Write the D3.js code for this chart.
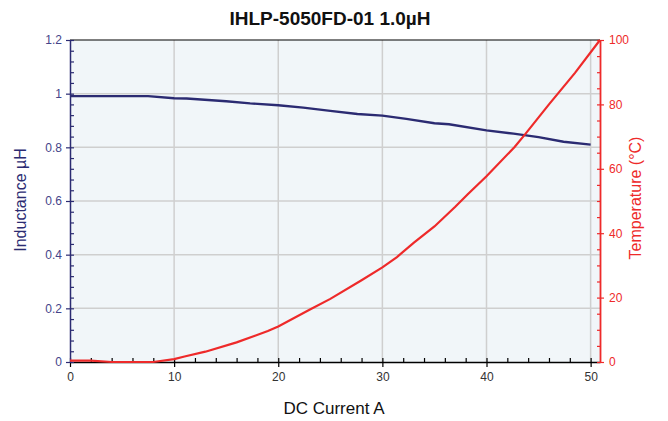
<!DOCTYPE html>
<html><head><meta charset="utf-8">
<script src="https://cdn.jsdelivr.net/npm/d3@7"></script>
<style>body{margin:0;background:#fff;}svg{display:block;font-family:"Liberation Sans",Arial,Helvetica,sans-serif;}</style>
</head><body>
<svg id="c" width="668" height="421"></svg>
<script>
const title = "IHLP-5050FD-01 1.0µH";
const xLabel = "DC Current A";
const yLeftLabel = "Inductance µH";
const yRightLabel = "Temperature (°C)";

const currentL = [0, 2, 4, 6, 7.5, 10, 11.2, 15, 17.3, 20, 22.4, 25, 27.6, 30, 32.3, 35, 36.4, 40, 42.6, 45, 47.4, 50];
const inductance = [0.991, 0.991, 0.991, 0.991, 0.991, 0.983, 0.982, 0.972, 0.964, 0.957, 0.948, 0.936, 0.924, 0.918, 0.906, 0.890, 0.886, 0.863, 0.851, 0.838, 0.821, 0.810];

const currentT = [0, 2, 4, 6, 8, 10, 11, 13, 16, 19, 20, 23, 25, 28, 30, 31.4, 33, 35, 37, 38.2, 40, 42.7, 43.7, 46, 48.5, 50.9];
const temperature = [0.4, 0.4, 0, 0, 0, 0.9, 1.7, 3.2, 6.1, 9.6, 11, 16.2, 19.6, 25.4, 29.4, 32.6, 37, 42.1, 48.2, 52.1, 57.7, 66.8, 70.7, 80, 89.8, 100];

const xTicks = [0, 10, 20, 30, 40, 50];
const yLeftTicks = [0, 0.2, 0.4, 0.6, 0.8, 1, 1.2];
const yRightTicks = [0, 20, 40, 60, 80, 100];

const navy = "#2b2b72", navyText = "#44448a", red = "#ee2a2a";
const svg = d3.select("#c");
const L = 70, R = 600, T = 40, B = 362;

const x = d3.scaleLinear().domain([0, 50.9]).range([L, R]);
const yL = d3.scaleLinear().domain([0, 1.2]).range([B, T]);
const yR = d3.scaleLinear().domain([0, 100]).range([B, T]);

svg.append("rect").attr("x", L).attr("y", T).attr("width", R - L).attr("height", B - T).attr("fill", "#f1f6f9");

// gridlines
svg.append("g").selectAll("line").data(xTicks.filter(d => d > 0)).join("line")
  .attr("x1", d => x(d)).attr("x2", d => x(d)).attr("y1", T).attr("y2", B)
  .attr("stroke", "#cfcfcf").attr("stroke-width", 1.5);
svg.append("g").selectAll("line").data(yLeftTicks.filter(d => d > 0 && d < 1.2)).join("line")
  .attr("x1", L).attr("x2", R).attr("y1", d => yL(d)).attr("y2", d => yL(d))
  .attr("stroke", "#cfcfcf").attr("stroke-width", 1.5);

// top border
svg.append("line").attr("x1", L).attr("x2", R).attr("y1", T).attr("y2", T).attr("stroke", "#000").attr("stroke-width", 1.2);

// bottom axis
const gx = svg.append("g").attr("transform", `translate(0,${B})`);
gx.call(d3.axisBottom(x).tickValues(d3.range(0, 51, 2)).tickSize(-4).tickFormat(""))
  .call(g => g.select(".domain").remove());
gx.append("g").call(d3.axisBottom(x).tickValues(xTicks).tickSize(5).tickSizeOuter(0).tickPadding(5).tickFormat(d3.format("d")))
  .call(g => g.select(".domain").attr("stroke", "#000").attr("stroke-width", 1.5))
  .call(g => g.selectAll("text").attr("fill", "#333").attr("font-size", 12).attr("font-family", "Liberation Sans, Arial, sans-serif"));
gx.selectAll("line").attr("stroke", "#000").attr("stroke-width", 1.2);

// left axis
const gl = svg.append("g").attr("transform", `translate(${L},0)`);
gl.call(d3.axisLeft(yL).tickValues(d3.range(0, 1.2001, 0.04)).tickSize(-4).tickFormat(""))
  .call(g => g.select(".domain").remove());
gl.append("g").call(d3.axisLeft(yL).tickValues(yLeftTicks).tickSize(4).tickSizeOuter(0).tickPadding(4).tickFormat(d => d3.format("")(d)))
  .call(g => g.select(".domain").attr("stroke", navy).attr("stroke-width", 1.5))
  .call(g => g.selectAll("text").attr("fill", navyText).attr("font-size", 12).attr("font-family", "Liberation Sans, Arial, sans-serif"));
gl.selectAll("line").attr("stroke", navy).attr("stroke-width", 1.2);

// right axis
const gr = svg.append("g").attr("transform", `translate(${R},0)`);
gr.call(d3.axisRight(yR).tickValues(d3.range(0, 101, 5)).tickSize(-3).tickFormat(""))
  .call(g => g.select(".domain").remove());
gr.append("g").call(d3.axisRight(yR).tickValues(yRightTicks).tickSize(4).tickSizeOuter(0).tickPadding(5).tickFormat(d3.format("d")))
  .call(g => g.select(".domain").attr("stroke", red).attr("stroke-width", 1.8))
  .call(g => g.selectAll("text").attr("fill", red).attr("font-size", 12).attr("font-family", "Liberation Sans, Arial, sans-serif"));
gr.selectAll("line").attr("stroke", red).attr("stroke-width", 1.2);

// lines
const dataL = currentL.map((c, i) => [c, inductance[i]]);
const dataT = currentT.map((c, i) => [c, temperature[i]]);
svg.append("path").datum(dataL).attr("fill", "none").attr("stroke", navy).attr("stroke-width", 2.4)
  .attr("d", d3.line().x(d => x(d[0])).y(d => yL(d[1])));
svg.append("path").datum(dataT).attr("fill", "none").attr("stroke", red).attr("stroke-width", 2.2)
  .attr("d", d3.line().x(d => x(d[0])).y(d => yR(d[1])));

// titles
svg.append("text").attr("x", 330).attr("y", 25).attr("text-anchor", "middle")
  .attr("font-size", 19).attr("font-weight", "bold").attr("fill", "#111").text(title);
svg.append("text").attr("x", 334).attr("y", 414).attr("text-anchor", "middle")
  .attr("font-size", 17).attr("fill", "#111").text(xLabel);
svg.append("text").attr("transform", "translate(26,200) rotate(-90)").attr("text-anchor", "middle")
  .attr("font-size", 16).attr("fill", navy).text(yLeftLabel);
svg.append("text").attr("transform", "translate(641,198) rotate(-90)").attr("text-anchor", "middle")
  .attr("font-size", 16).attr("fill", red).text(yRightLabel);
</script>
</body></html>
